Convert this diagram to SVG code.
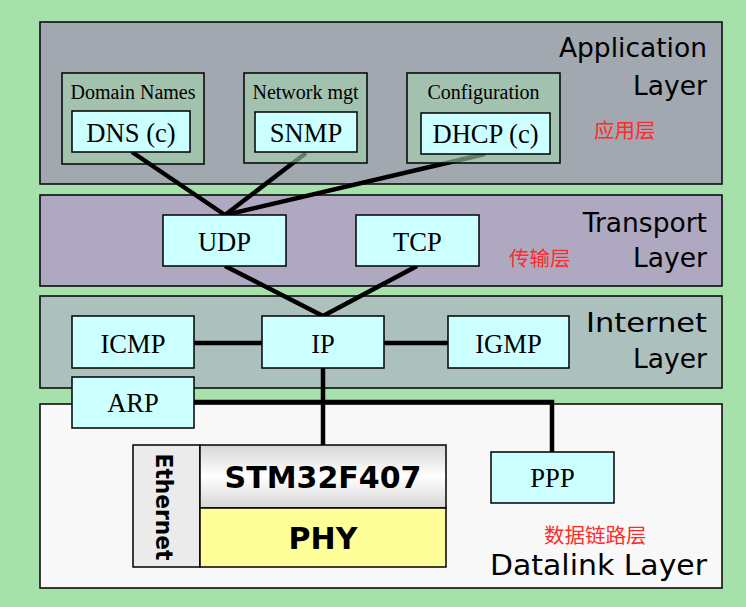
<svg xmlns="http://www.w3.org/2000/svg" width="746" height="607" viewBox="0 0 746 607">
<defs>
<linearGradient id="stm" x1="0" y1="0" x2="0" y2="1">
<stop offset="0" stop-color="#d6d6d6"/>
<stop offset="0.5" stop-color="#ffffff"/>
<stop offset="1" stop-color="#d6d6d6"/>
</linearGradient>
</defs>
<style>
.layer{stroke:#000;stroke-width:1.5}
.grp{fill:#a3c2ae;stroke:#000;stroke-width:1.5}
.grpt{fill:rgb(164,211,175);fill-opacity:0.6;stroke:#000;stroke-width:1.5}
.box{fill:#ccffff;stroke:#000;stroke-width:1.5}
.serif{font-family:"Liberation Serif","Times New Roman",serif;fill:#000;text-anchor:middle}
.big{font-size:26.6px}
.small{font-size:20px}
.lbl{font-family:"DejaVu Sans",Verdana,sans-serif;font-size:26.5px;text-anchor:end;fill:#000}
.cn{font-family:"Noto Sans CJK SC",sans-serif;font-size:20.5px;fill:#ff2a2a}
.bold{font-family:"DejaVu Sans",Verdana,sans-serif;font-weight:bold;fill:#000;text-anchor:middle}
.conn{stroke:#000;stroke-width:4.5;fill:none}
</style>
<rect width="746" height="607" fill="#a6e1ab"/>
<g id="application-layer">
<rect class="layer" x="40" y="22" width="682" height="162" fill="#a1a8b0"/>
<text class="lbl" x="707" y="57">Application</text>
<text class="lbl" x="707" y="95">Layer</text>
<text class="cn" x="594" y="138">应用层</text>
</g>
<g id="transport-layer">
<rect class="layer" x="40" y="195" width="682" height="91" fill="#aea8c0"/>
<text class="lbl" x="707" y="232">Transport</text>
<text class="lbl" x="707" y="267">Layer</text>
<text class="cn" x="509" y="266">传输层</text>
</g>
<g id="internet-layer">
<rect class="layer" x="40" y="296" width="682" height="92" fill="#acc1bd"/>
<text class="lbl" x="707" y="332" textLength="121" lengthAdjust="spacingAndGlyphs">Internet</text>
<text class="lbl" x="707" y="368">Layer</text>
</g>
<g id="datalink-layer">
<rect class="layer" x="40" y="404" width="682" height="184" fill="#f8f8f8"/>
<text class="cn" x="544" y="543">数据链路层</text>
<text class="lbl" x="707" y="575" style="font-size:29px" textLength="217" lengthAdjust="spacingAndGlyphs">Datalink Layer</text>
</g>
<g id="domain-names">
<rect class="grp" x="62" y="73" width="142" height="91"/>
<text class="serif small" x="133" y="99">Domain Names</text>
</g>
<g id="connectors">
<polyline class="conn" points="132,152 225,215"/>
<polyline class="conn" points="306,153 225,215"/>
<polyline class="conn" points="485,154 225,215"/>
<polyline class="conn" points="225,266 323,316"/>
<polyline class="conn" points="417,266 323,316"/>
<polyline class="conn" points="194,343 262,343"/>
<polyline class="conn" points="384,343 448,343"/>
<polyline class="conn" points="323,368 323,445"/>
<polyline class="conn" points="194,402 552,402 552,452"/>
</g>
<g id="network-mgt">
<rect class="grpt" x="244" y="73" width="123" height="90"/>
<text class="serif small" x="305.5" y="99">Network mgt</text>
</g>
<g id="configuration">
<rect class="grpt" x="407" y="73" width="153" height="90"/>
<text class="serif small" x="483.5" y="99">Configuration</text>
</g>
<g id="dns">
<rect class="box" x="72" y="111" width="118" height="41"/>
<text class="serif big" x="131" y="142">DNS (c)</text>
</g>
<g id="snmp">
<rect class="box" x="255" y="112" width="102" height="40"/>
<text class="serif big" x="306" y="142">SNMP</text>
</g>
<g id="dhcp">
<rect class="box" x="421" y="113" width="129" height="41"/>
<text class="serif big" x="485.5" y="143">DHCP (c)</text>
</g>
<g id="udp">
<rect class="box" x="163" y="215" width="123" height="51"/>
<text class="serif big" x="224.5" y="251">UDP</text>
</g>
<g id="tcp">
<rect class="box" x="356" y="215" width="123" height="51"/>
<text class="serif big" x="417.5" y="251">TCP</text>
</g>
<g id="icmp">
<rect class="box" x="72" y="316" width="122" height="52"/>
<text class="serif big" x="133" y="353">ICMP</text>
</g>
<g id="ip">
<rect class="box" x="262" y="316" width="122" height="52"/>
<text class="serif big" x="323" y="353">IP</text>
</g>
<g id="igmp">
<rect class="box" x="448" y="316" width="121" height="52"/>
<text class="serif big" x="508.5" y="353">IGMP</text>
</g>
<g id="arp">
<rect class="box" x="72" y="377" width="122" height="51"/>
<text class="serif big" x="133" y="412">ARP</text>
</g>
<g id="ppp">
<rect class="box" x="491" y="452" width="123" height="51"/>
<text class="serif big" x="552.5" y="487">PPP</text>
</g>
<g id="ethernet">
<rect x="133" y="445" width="67" height="122" fill="#ebebeb" stroke="#000" stroke-width="1.5"/>
<text class="bold" transform="translate(156,507) rotate(90)" x="0" y="0" style="font-size:23px" textLength="107" lengthAdjust="spacingAndGlyphs">Ethernet</text>
</g>
<g id="stm32f407">
<rect x="200" y="445" width="246" height="63" fill="url(#stm)" stroke="#000" stroke-width="1.5"/>
<text class="bold" x="323" y="488" style="font-size:30px">STM32F407</text>
</g>
<g id="phy">
<rect x="200" y="508" width="246" height="59" fill="#ffff99" stroke="#000" stroke-width="1.5"/>
<text class="bold" x="323" y="549" style="font-size:30px">PHY</text>
</g>
</svg>
